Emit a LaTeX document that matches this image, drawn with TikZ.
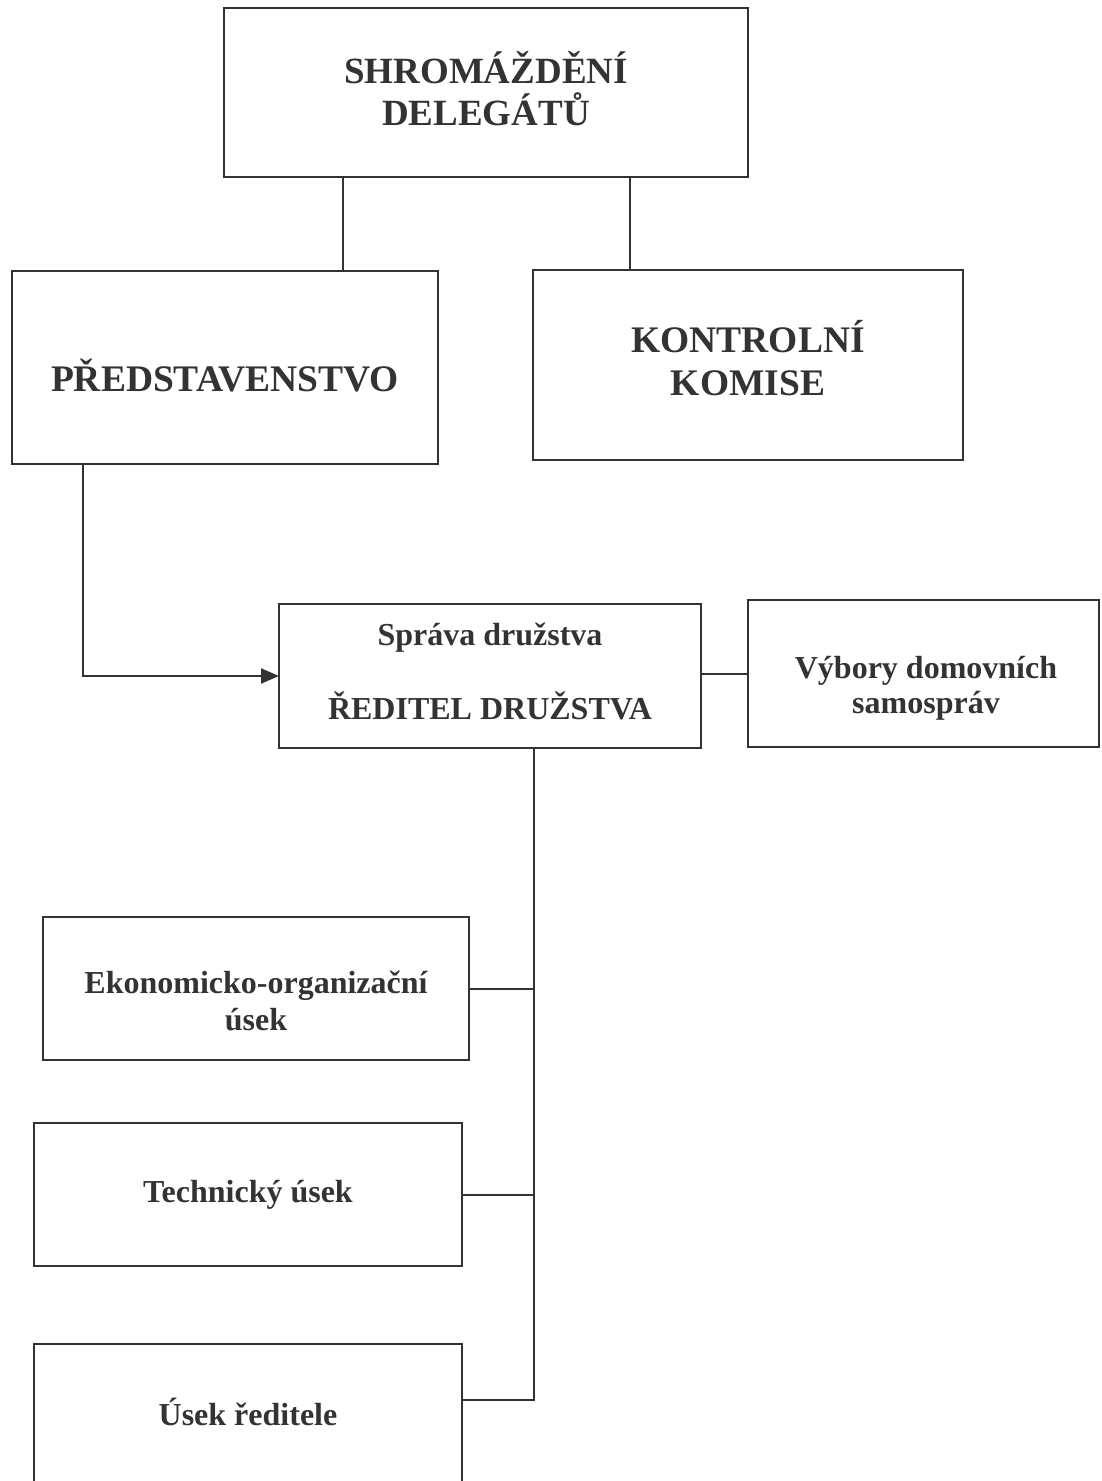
\documentclass[tikz,border=0pt]{standalone}
\usepackage{fontspec}
\setmainfont{Liberation Serif}
\usetikzlibrary{arrows.meta}
\definecolor{ink}{HTML}{333333}
\begin{document}
\begin{tikzpicture}[x=1pt,y=-1pt,
  box/.style={draw=ink, line width=2pt, rectangle, inner sep=0pt, outer sep=0pt, fill=none},
  big/.style={text=ink, font=\bfseries\fontsize{37pt}{44pt}\selectfont, anchor=base, inner sep=0pt},
  mid/.style={text=ink, font=\bfseries\fontsize{37.5pt}{44pt}\selectfont, anchor=base, inner sep=0pt},
  small/.style={text=ink, font=\bfseries\fontsize{32pt}{37pt}\selectfont, anchor=base, inner sep=0pt},
  conn/.style={draw=ink, line width=2pt}]
\useasboundingbox (0,0) rectangle (1101,1481);
\clip (0,0) rectangle (1101,1481);
\fill[white] (0,0) rectangle (1101,1481);

% boxes
\node[box, minimum width=524pt, minimum height=169pt] (top) at (486,92.5) {};
\node[box, minimum width=426pt, minimum height=193pt] (pred) at (225,367.5) {};
\node[box, minimum width=430pt, minimum height=190pt] (kom) at (748,365) {};
\node[box, minimum width=422pt, minimum height=144pt] (sprava) at (490,676) {};
\node[box, minimum width=351pt, minimum height=147pt] (vybory) at (923.5,673.5) {};
\node[box, minimum width=426pt, minimum height=143pt] (eko) at (256,988.5) {};
\node[box, minimum width=428pt, minimum height=143pt] (tech) at (248,1194.5) {};
\node[box, minimum width=428pt, minimum height=138pt] (usek) at (248,1413) {};

% texts
\node[big] (topA) at (486,83) {SHROMÁŽDĚNÍ};
\node[big] (topB) at (486,125) {DELEGÁTŮ};
\node[mid] (predT) at (225,391) {PŘEDSTAVENSTVO};
\node[mid] (komA) at (748,352) {KONTROLNÍ};
\node[mid] (komB) at (748,395) {KOMISE};
\node[small] (sprA) at (490,645) {Správa družstva};
\node[small] (sprB) at (490,719) {ŘEDITEL DRUŽSTVA};
\node[small] (vybA) at (926,678) {Výbory domovních};
\node[small] (vybB) at (926,713) {samospráv};
\node[small] (ekoA) at (256,993) {Ekonomicko-organizační};
\node[small] (ekoB) at (256,1030) {úsek};
\node[small] (techT) at (248,1202) {Technický úsek};
\node[small] (usekT) at (248,1425) {Úsek ředitele};

% connector helper coordinates
\coordinate (cA) at (343,0);
\coordinate (cB) at (629.5,0);
\coordinate (cC) at (83,0);
\coordinate (cT) at (534,0);
\coordinate (cU) at (0,1400);

\draw[conn] (top.south -| cA) -- (pred.north -| cA);
\draw[conn] (top.south -| cB) -- (kom.north -| cB);
\draw[conn, -{Triangle[length=18pt,width=15pt]}] (pred.south -| cC) |- (sprava.west);
\draw[conn] (vybory.west -| sprava.east) -- (vybory.west);
\draw[conn] (sprava.south -| cT) |- (usek.east |- cU);
\draw[conn] (eko.east) -- (eko.east -| cT);
\draw[conn] (tech.east) -- (tech.east -| cT);
\end{tikzpicture}
\end{document}
